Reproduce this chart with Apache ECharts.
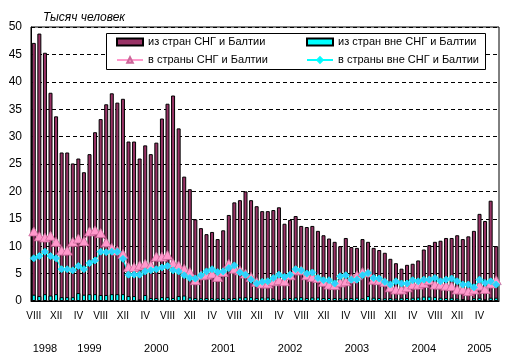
<!DOCTYPE html>
<html><head><meta charset="utf-8">
<script src="https://cdn.jsdelivr.net/npm/echarts@6/dist/echarts.min.js"></script>
<style>html,body{margin:0;padding:0;background:#fff}#c{width:514px;height:357px}</style>
</head><body><div id="c"></div>
<script>
// Months VIII 1998 .. VII 2005
const romanMonths = ['I','II','III','IV','V','VI','VII','VIII','IX','X','XI','XII'];
const categories = [];
for (let y = 1998, m = 8; y < 2005 || (y === 2005 && m <= 7); ) {
  categories.push(romanMonths[m-1] + ' ' + y);
  m++; if (m > 12) { m = 1; y++; }
}
const yearLabels = ['1998','1999','2000','2001','2002','2003','2004','2005'];
const yearLabelAt = ['X 1998','VI 1999','VI 2000','VI 2001','VI 2002','VI 2003','VI 2004','IV 2005'];

const fromCIS = [47.1,48.8,45.3,38.0,33.7,27.1,27.1,25.1,26.0,23.5,26.8,30.8,33.2,35.9,37.9,36.2,36.9,29.1,29.1,26.0,28.4,26.8,28.9,33.3,36.0,37.5,31.5,22.7,20.4,
 14.9,13.3,12.2,12.6,11.3,12.9,15.7,18.0,18.4,20.0,18.4,17.3,16.4,16.4,16.6,17.1,14.1,14.8,15.5,13.7,13.5,13.7,12.8,12.0,11.4,10.8,10.0,11.5,
 9.85,9.7,11.3,10.8,9.7,9.3,8.8,7.7,6.9,5.9,6.6,6.8,7.4,9.4,10.2,10.8,11.0,11.5,11.5,12.0,11.3,11.8,12.8,15.9,14.6,18.3,10.0];
const fromNonCIS = [1.15,0.9,1.25,1.0,1.25,0.7,0.7,0.7,1.45,1.15,1.25,1.25,1.1,1.1,1.25,1.25,1.25,0.9,0.9,0.3,1.1,0.55,0.55,0.7,0.7,0.55,0.9,
 1.0,0.65,0.55,0.5,0.55,0.5,0.5,0.55,0.5,0.55,0.65,0.7,0.7,0.55,0.65,0.65,0.5,0.25,0.5,0.55,0.65,0.7,0.55,0.65,0.65,0.55,0.55,0.55,0.5,0.5,
 0.55,0.6,0.5,0.9,0.6,0.55,0.5,0.55,0.45,0.6,0.55,0.6,0.65,0.8,0.8,0.75,0.6,0.55,0.6,0.45,0.35,0.2,0.5,0.6,0.3,0.6,0.6];
const toCIS = [12.7,11.8,11.6,11.9,10.8,9.2,9.2,10.8,11.4,10.9,12.7,12.9,12.4,10.7,9.7,9.2,8.6,6.2,6.2,6.5,6.8,6.5,8.1,8.1,8.4,6.9,6.5,
 5.9,5.3,3.8,4.7,4.8,5.0,4.4,5.3,6.8,5.9,5.6,5.0,4.4,3.5,3.2,3.2,3.6,3.8,3.6,4.7,5.6,5.6,4.7,4.4,4.2,3.5,3.0,2.9,3.4,3.6,
 4.1,4.7,5.3,5.2,3.9,3.8,3.5,2.5,2.1,2.1,2.5,3.0,3.0,3.3,3.8,3.0,3.0,2.8,2.7,2.1,2.1,1.8,2.1,2.8,2.2,3.2,3.8];
const toNonCIS = [7.8,8.2,9.0,8.2,7.8,5.8,5.8,5.6,6.4,5.8,6.9,7.4,9.0,8.9,9.0,9.0,7.7,4.8,4.8,4.8,5.4,5.6,5.8,6.1,6.4,5.6,5.4,
 4.7,4.2,4.1,4.7,5.4,5.8,5.3,5.4,6.0,6.5,5.2,4.8,3.9,3.2,3.5,3.6,4.2,4.8,4.4,4.8,5.8,5.6,5.0,5.2,4.2,3.8,3.8,3.2,4.5,4.7,
 3.9,3.9,4.7,5.1,4.2,4.1,3.5,3.0,3.6,3.2,3.2,3.8,3.6,3.9,3.9,4.2,3.6,3.9,4.1,3.6,3.0,3.0,2.5,3.9,3.3,3.6,3.0];

const names = ['из стран СНГ и Балтии','из стран вне СНГ и Балтии','в страны СНГ и Балтии','в страны вне СНГ и Балтии'];
const FF = "'Liberation Sans', Arial, sans-serif";

const chart = echarts.init(document.getElementById('c'), null, {renderer:'canvas'});
const legendCommon = {orient:'vertical', top:35, itemWidth:26, itemHeight:7, itemGap:4, padding:0,
  selectedMode:false, textStyle:{fontSize:11, color:'#000', fontFamily:FF, lineHeight:14}};
chart.setOption({
  animation:false,
  backgroundColor:'#fff',
  title:{text:'Тысяч человек', left:38, top:7, textStyle:{fontSize:12, fontStyle:'italic', fontWeight:'normal', color:'#000', fontFamily:FF}},
  graphic:[{type:'rect', z:3, shape:{x:106.5, y:33.5, width:379, height:36}, style:{fill:'#fff', stroke:'#000', lineWidth:1}}],
  legend:[
    Object.assign({left:116, data:[{name:names[0], icon:'rect'}, names[2]]}, legendCommon),
    Object.assign({left:306, data:[{name:names[1], icon:'rect'}, names[3]]}, legendCommon)
  ],
  grid:{left:31, right:15, top:27, bottom:56, show:true, borderColor:'#000', borderWidth:1, backgroundColor:'transparent'},
  xAxis:[
    {type:'category', data:categories, boundaryGap:true,
     axisLine:{lineStyle:{color:'#000'}}, axisTick:{show:false},
     axisLabel:{interval:3, margin:10, fontSize:10, color:'#000', fontFamily:FF, formatter:v=>v.split(' ')[0]}},
    {type:'category', data:categories, position:'bottom', offset:32, boundaryGap:true,
     axisLine:{show:false}, axisTick:{show:false},
     axisLabel:{interval:0, margin:10, fontSize:11, color:'#000', fontFamily:FF,
       formatter:v=>{const k=yearLabelAt.indexOf(v); return k>=0?yearLabels[k]:'';}}}
  ],
  yAxis:{type:'value', min:0, max:50, interval:5,
    axisLine:{show:true, lineStyle:{color:'#000'}}, axisTick:{show:false},
    axisLabel:{fontSize:12, color:'#000', margin:9, fontFamily:FF},
    splitLine:{show:true, lineStyle:{color:'#000', type:[4,3], width:1}}},
  series:[
    {name:names[0], type:'bar', data:fromCIS, barWidth:4, barGap:'-100%',
     itemStyle:{color:'#993366', borderColor:'#000', borderWidth:1}},
    {name:names[1], type:'bar', data:fromNonCIS, barWidth:4, barGap:'-100%',
     itemStyle:{color:'#00FFFF', borderColor:'#000', borderWidth:1}},
    {name:names[2], type:'line', data:toCIS, symbol:'triangle', symbolSize:[10,9], showAllSymbol:true,
     lineStyle:{color:'#FF99CC', width:1}, itemStyle:{color:'#FF99CC', borderColor:'#CC6699', borderWidth:0.8}},
    {name:names[3], type:'line', data:toNonCIS, symbol:'diamond', symbolSize:7, showAllSymbol:true,
     lineStyle:{color:'#00FFFF', width:1}, itemStyle:{color:'#33CCFF', borderColor:'#00FFFF', borderWidth:0.8}}
  ]
});
</script></body></html>
